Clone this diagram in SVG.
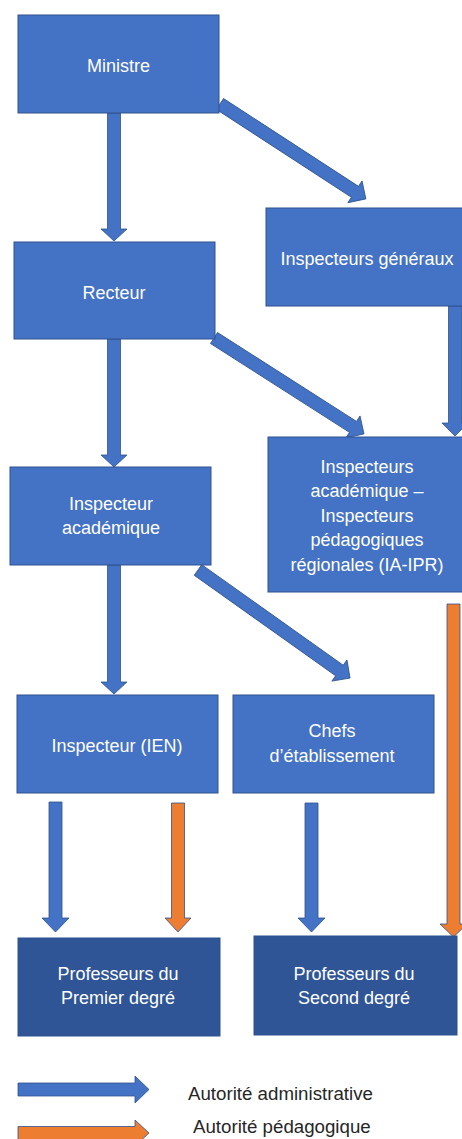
<svg xmlns="http://www.w3.org/2000/svg" width="462" height="1139" viewBox="0 0 462 1139">
<style>
.box{fill:#4472C4;stroke:#2F528F;stroke-width:1}
.dark{fill:#2F5597;stroke:#2F528F;stroke-width:1}
.lbl{font-family:"Liberation Sans",Arial,sans-serif;font-size:18px;fill:#FFFFFF;text-anchor:middle}
.leg{font-family:"Liberation Sans",Arial,sans-serif;font-size:18.7px;fill:#262626}
.ab{fill:#4472C4;stroke:#2F528F;stroke-width:0.8}
.ao{fill:#ED7D31;stroke:#2F528F;stroke-width:0.8}
</style>
<rect width="462" height="1139" fill="#FFFFFF"/>
<g id="connectors">
  <path class="ab" d="M107.5,113 H120.5 V229 H127 L114,241 L101,229 H107.5 Z"/>
  <path class="ab" d="M107.5,339 H120.5 V455 H127 L114,467 L101,455 H107.5 Z"/>
  <path class="ab" d="M107.5,565 H120.5 V682 H127 L114,694 L101,682 H107.5 Z"/>
  <path class="ab" d="M448.5,306 H461.5 V423 H468 L455,436 L442,423 H448.5 Z"/>
  <path class="ab" d="M49,802 H62 V918 H69 L55.5,932 L42,918 H49 Z"/>
  <path class="ao" d="M171.5,803 H184.5 V918 H191 L178,932 L165,918 H171.5 Z"/>
  <path class="ab" d="M305,803 H318 V918 H325 L311.5,932 L298,918 H305 Z"/>
  <path class="ao" d="M447,604 H460 V924 H467 L453.5,937 L440,924 H447 Z"/>
  <path class="ab" transform="translate(220,104) rotate(33.05)" d="M0,-6.5 H161 V-13 L174,0 L161,13 V6.5 H0 Z"/>
  <path class="ab" transform="translate(214,338) rotate(32.6)" d="M0,-6.5 H165 V-13 L178,0 L165,13 V6.5 H0 Z"/>
  <path class="ab" transform="translate(198,570) rotate(35.4)" d="M0,-6.5 H173.5 V-13 L186.5,0 L173.5,13 V6.5 H0 Z"/>
</g>
<g id="n-ministre">
  <rect class="box" x="18" y="15" width="201" height="98"/>
  <text class="lbl" x="118.5" y="72">Ministre</text>
</g>
<g id="n-generaux">
  <rect class="box" x="266" y="208" width="200" height="98"/>
  <text class="lbl" x="367" y="265">Inspecteurs généraux</text>
</g>
<g id="n-recteur">
  <rect class="box" x="14" y="242" width="201" height="97"/>
  <text class="lbl" x="114" y="299">Recteur</text>
</g>
<g id="n-ia">
  <rect class="box" x="10" y="467" width="201" height="98"/>
  <text class="lbl" x="111" y="510">Inspecteur</text>
  <text class="lbl" x="111" y="534">académique</text>
</g>
<g id="n-iaipr">
  <rect class="box" x="268" y="437" width="198" height="155"/>
  <text class="lbl" x="367" y="473">Inspecteurs</text>
  <text class="lbl" x="367" y="497">académique –</text>
  <text class="lbl" x="367" y="522">Inspecteurs</text>
  <text class="lbl" x="367" y="546">pédagogiques</text>
  <text class="lbl" x="367" y="571">régionales (IA-IPR)</text>
</g>
<g id="n-ien">
  <rect class="box" x="17" y="695" width="201" height="98"/>
  <text class="lbl" x="117" y="752">Inspecteur (IEN)</text>
</g>
<g id="n-chefs">
  <rect class="box" x="233" y="695" width="201" height="98"/>
  <text class="lbl" x="332" y="737">Chefs</text>
  <text class="lbl" x="332" y="762">d’établissement</text>
</g>
<g id="n-premier">
  <rect class="dark" x="18" y="938" width="202" height="98"/>
  <text class="lbl" x="118" y="980">Professeurs du</text>
  <text class="lbl" x="118" y="1004">Premier degré</text>
</g>
<g id="n-second">
  <rect class="dark" x="254" y="936" width="203" height="99"/>
  <text class="lbl" x="354" y="980">Professeurs du</text>
  <text class="lbl" x="354" y="1004">Second degré</text>
</g>
<g id="legend">
  <path class="ab" d="M18,1083 H135 V1076 L149,1089.5 L135,1103 V1096 H18 Z"/>
  <text class="leg" x="188" y="1100">Autorité administrative</text>
  <path class="ao" d="M18,1126.5 H135 V1120 L149,1133 L135,1146 V1139.5 H18 Z"/>
  <text class="leg" x="193" y="1133">Autorité pédagogique</text>
</g>
</svg>
